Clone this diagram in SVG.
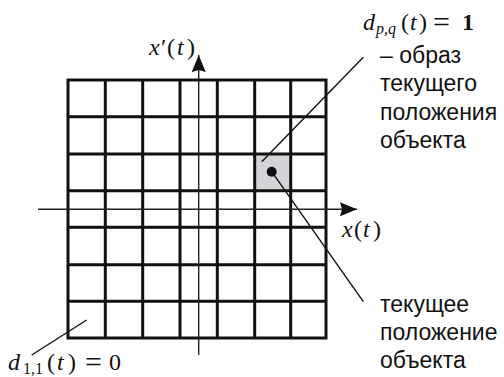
<svg xmlns="http://www.w3.org/2000/svg" width="504" height="377" viewBox="0 0 504 377">
<style>
.grid{stroke:#111;stroke-width:3;fill:none}
.axis{stroke:#222;stroke-width:1.4;fill:none}
.lead{stroke:#111;stroke-width:1.4;fill:none}
.m{font-family:"Liberation Serif",serif;font-size:24px;fill:#111}
.i{font-style:italic}
.s{font-size:16px}
.eq{font-size:30px}
.t{font-family:"Liberation Sans",Arial,sans-serif;font-size:23px;fill:#111}
</style>
<defs>
<marker id="ah" markerWidth="17" markerHeight="14" refX="17" refY="7" orient="auto" markerUnits="userSpaceOnUse">
<path d="M0,0 L17,7 L0,14 L2,7 Z" fill="#111"/>
</marker>
</defs>
<g id="cell-highlight">
<rect x="254.7" y="154" width="36" height="36.7" fill="#d4d4d8"/>
</g>
<g id="grid">
<rect class="grid" x="68" y="80" width="258" height="258"/>
<path class="grid" d="M105.3,80V338M142.7,80V338M180,80V338M217.3,80V338M254.7,80V338M290.7,80V338M68,116.7H326M68,154H326M68,190.7H326M68,227.3H326M68,264.7H326M68,301.3H326"/>
</g>
<g id="connectors">
<line class="axis" x1="198.7" y1="355" x2="198.7" y2="55" marker-end="url(#ah)"/>
<line class="axis" x1="38" y1="209.3" x2="357" y2="209.3" marker-end="url(#ah)"/>
<line class="lead" x1="261.7" y1="161.7" x2="363.3" y2="57.3"/>
<line class="lead" x1="271.7" y1="171.7" x2="363.3" y2="301.7"/>
<line class="lead" x1="86.7" y1="320" x2="31.7" y2="355"/>
</g>
<g id="dot"><circle cx="271.7" cy="171.7" r="5" fill="#111"/></g>
<g id="label-dpq">
<text class="m" y="30"><tspan class="i" x="363">d</tspan><tspan class="i s" x="376" y="34">p,q</tspan><tspan x="401" y="30">(</tspan><tspan class="i" x="410">t</tspan><tspan x="419">)</tspan><tspan class="eq" x="433" y="32">=</tspan><tspan x="462" y="30" font-weight="bold">1</tspan></text>
<text class="t" x="380" y="63">– образ</text>
<text class="t" x="380" y="91">текущего</text>
<text class="t" x="380" y="120">положения</text>
<text class="t" x="380" y="148">объекта</text>
</g>
<g id="label-pos">
<text class="t" x="380" y="312">текущее</text>
<text class="t" x="380" y="340">положение</text>
<text class="t" x="380" y="368">объекта</text>
</g>
<g id="label-d11">
<text class="m" y="370"><tspan class="i" x="8">d</tspan><tspan class="s" x="23" y="374">1,1</tspan><tspan x="47" y="370">(</tspan><tspan class="i" x="57">t</tspan><tspan x="68">)</tspan><tspan class="eq" x="85" y="372">=</tspan><tspan x="109" y="370">0</tspan></text>
</g>
<g id="label-xp">
<text class="m" y="55"><tspan class="i" x="149">x</tspan><tspan x="161">′</tspan><tspan x="167">(</tspan><tspan class="i" x="177">t</tspan><tspan x="187">)</tspan></text>
</g>
<g id="label-x">
<text class="m" y="237"><tspan class="i" x="342">x</tspan><tspan x="354">(</tspan><tspan class="i" x="363">t</tspan><tspan x="373">)</tspan></text>
</g>
</svg>
